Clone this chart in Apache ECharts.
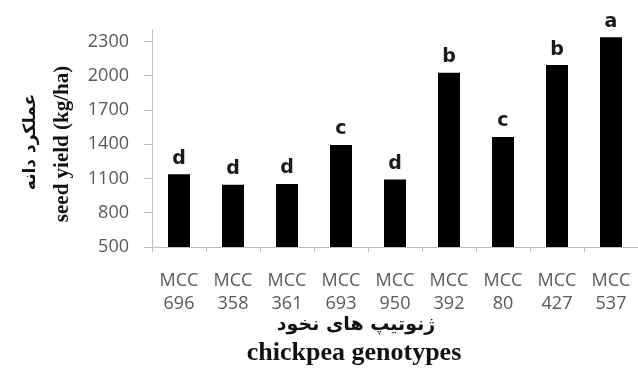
<!DOCTYPE html>
<html>
<head>
<meta charset="utf-8">
<script src="https://cdn.jsdelivr.net/npm/echarts@6/dist/echarts.min.js"></script>
<style>
  html, body { margin: 0; padding: 0; background: #fff; }
  #chart { width: 638px; height: 369px; }
</style>
</head>
<body>
<div id="chart"></div>
<script>
// Chickpea genotypes (MCC accession numbers) and their mean seed yield, kg/ha
const genotypes = ['696', '358', '361', '693', '950', '392', '80', '427', '537'];
const seedYield = [1137, 1045, 1052, 1394, 1091, 2025, 1464, 2093, 2336];
// Duncan grouping letters shown above each bar
const groups = ['d', 'd', 'd', 'c', 'd', 'b', 'c', 'b', 'a'];
// Y axis tick values
const yTicks = [500, 800, 1100, 1400, 1700, 2000, 2300];

const categories = genotypes.map(g => 'MCC\n' + g);
const axisGray = '#bfbfbf';
const labelGray = '#595959';

const chart = echarts.init(document.getElementById('chart'), null, { renderer: 'canvas' });

chart.setOption({
  backgroundColor: '#ffffff',
  animation: false,
  grid: { left: 152, right: -6, top: 30, bottom: 122, containLabel: false },
  xAxis: {
    type: 'category',
    data: categories,
    axisLine: { show: true, lineStyle: { color: axisGray, width: 1 } },
    axisTick: { show: true, length: 5, lineStyle: { color: axisGray } },
    axisLabel: {
      color: labelGray,
      fontFamily: 'Open Sans',
      fontSize: 18,
      lineHeight: 23,
      margin: 22,
      interval: 0
    },
    splitLine: { show: false }
  },
  yAxis: {
    type: 'value',
    min: 500,
    max: 2400,
    interval: 100,
    axisLine: { show: true, lineStyle: { color: axisGray, width: 1 } },
    axisTick: { show: true, length: 8, customValues: yTicks, lineStyle: { color: axisGray } },
    axisLabel: {
      customValues: yTicks,
      formatter: v => String(v),
      color: labelGray,
      fontFamily: 'Open Sans',
      fontSize: 18,
      margin: 23
    },
    splitLine: { show: false }
  },
  series: [{
    type: 'bar',
    data: seedYield,
    barWidth: 22,
    itemStyle: { color: '#000000' },
    label: {
      show: true,
      position: 'top',
      distance: 6,
      formatter: p => groups[p.dataIndex],
      color: '#1a1a1a',
      fontFamily: 'DejaVu Sans',
      fontWeight: 'bold',
      fontSize: 19
    }
  }],
  graphic: [
    {
      type: 'text',
      x: 31, y: 142,
      rotation: Math.PI / 2,
      style: {
        text: 'عملکرد دانه',
        fill: '#111',
        font: 'bold 17px "DejaVu Sans"',
        align: 'center',
        verticalAlign: 'middle'
      }
    },
    {
      type: 'text',
      x: 63, y: 144,
      rotation: Math.PI / 2,
      style: {
        text: 'seed yield (kg/ha)',
        fill: '#111',
        font: 'bold 21px "Liberation Serif"',
        align: 'center',
        verticalAlign: 'middle'
      }
    },
    {
      type: 'text',
      x: 356, y: 325,
      style: {
        text: 'ژنوتیپ های نخود',
        fill: '#111',
        font: 'bold 19px "DejaVu Sans"',
        align: 'center',
        verticalAlign: 'middle'
      }
    },
    {
      type: 'text',
      x: 354, y: 353,
      style: {
        text: 'chickpea genotypes',
        fill: '#111',
        font: 'bold 26px "Liberation Serif"',
        align: 'center',
        verticalAlign: 'middle'
      }
    }
  ]
});
</script>
</body>
</html>
